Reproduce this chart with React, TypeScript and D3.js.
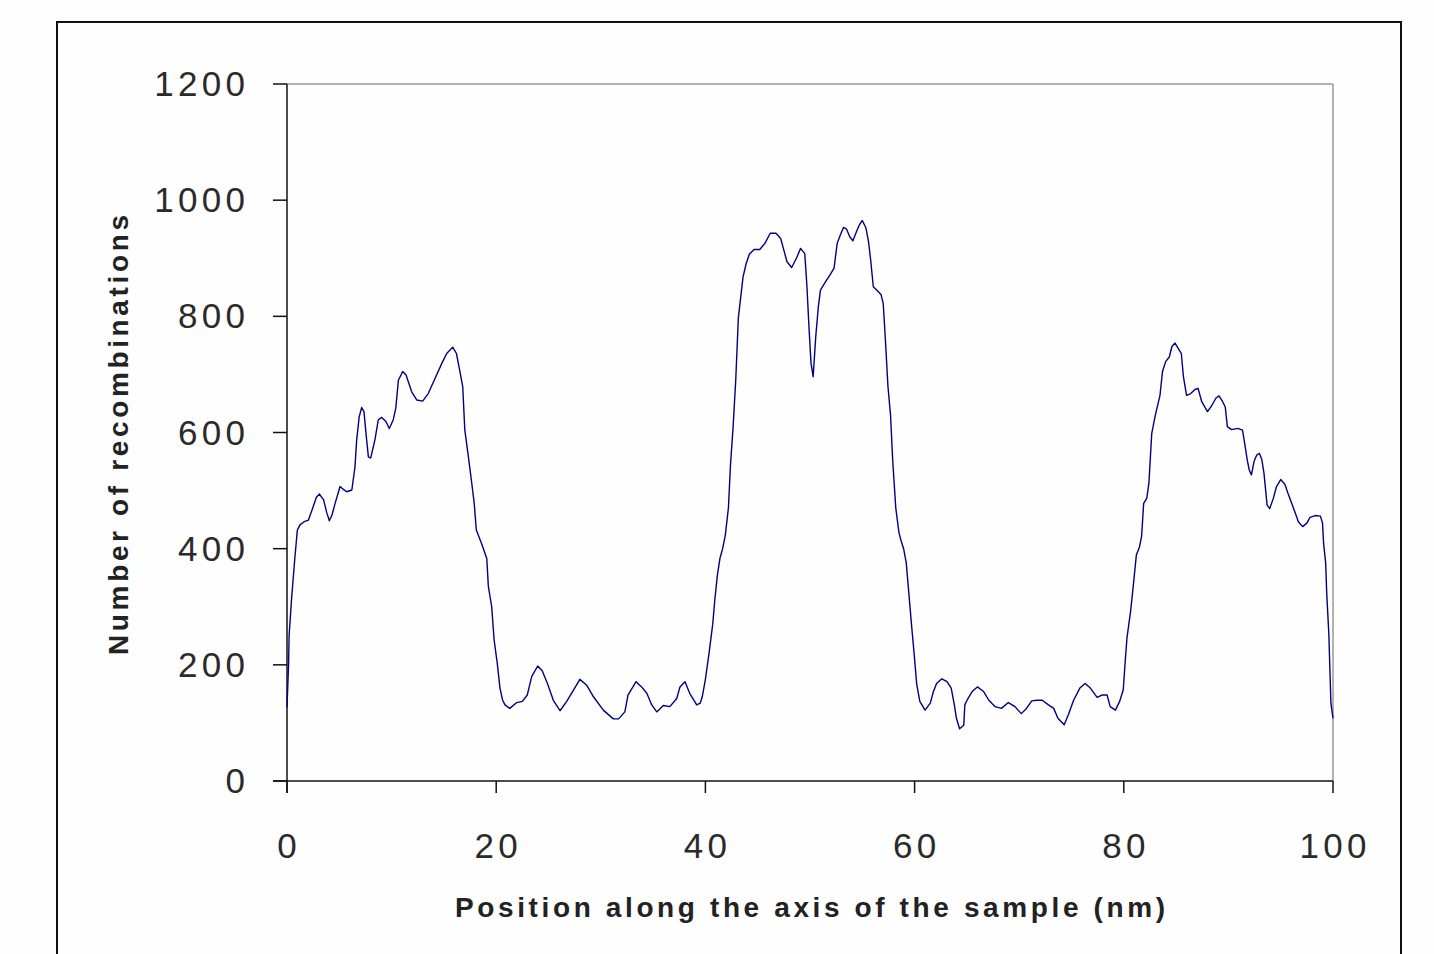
import React from "react";
import * as d3 from "d3";

const positions = [
  0, 0.15, 0.2, 0.45, 0.76, 0.99, 1.24, 1.6, 2.04, 2.5, 2.8, 3.1, 3.5, 3.8, 4.05, 4.3, 4.6, 5.07, 5.4, 5.7,
  6.2, 6.5, 6.66, 6.9, 7.14, 7.36, 7.55, 7.78, 8.0, 8.4, 8.73, 9.05, 9.46, 9.78, 10.16, 10.4, 10.65, 11.06, 11.38, 11.92,
  12.4, 12.97, 13.5, 14.15, 14.8, 15.27, 15.84, 16.2, 16.5, 16.8, 17.0, 17.3, 17.66, 17.9, 18.1, 18.6, 19.1, 19.25, 19.57, 19.8,
  20.1, 20.36, 20.6, 20.84, 21.3, 21.96, 22.5, 22.97, 23.4, 23.97, 24.4, 24.9, 25.46, 26.1, 26.74, 27.4, 28.0, 28.65, 29.3, 30.24,
  31.2, 31.7, 32.3, 32.6, 33.37, 33.9, 34.4, 34.87, 35.35, 35.97, 36.6, 37.26, 37.57, 38.05, 38.5, 39.17, 39.5, 39.7, 40.0, 40.35,
  40.7, 40.9, 41.15, 41.4, 41.65, 41.9, 42.2, 42.4, 42.65, 42.9, 43.15, 43.4, 43.6, 43.9, 44.2, 44.65, 45.2, 45.7, 46.2, 46.75,
  47.2, 47.5, 47.8, 48.25, 48.7, 49.1, 49.5, 49.7, 49.9, 50.1, 50.3, 50.55, 50.8, 51.0, 51.4, 51.9, 52.3, 52.6, 52.9, 53.2,
  53.5, 53.8, 54.1, 54.45, 54.7, 55.0, 55.35, 55.6, 55.8, 56.05, 56.4, 56.8, 57.0, 57.2, 57.45, 57.7, 57.9, 58.2, 58.5, 58.7,
  58.95, 59.2, 59.45, 59.7, 59.96, 60.2, 60.5, 61.0, 61.5, 61.8, 62.1, 62.6, 63.1, 63.5, 63.8, 64.0, 64.3, 64.7, 64.8, 65.1,
  65.5, 66.0, 66.6, 67.1, 67.7, 68.3, 68.96, 69.6, 70.2, 70.7, 71.2, 71.7, 72.2, 72.8, 73.3, 73.7, 74.3, 74.7, 75.2, 75.8,
  76.3, 76.8, 77.45, 77.9, 78.4, 78.7, 79.2, 79.6, 79.95, 80.1, 80.3, 80.65, 80.9, 81.2, 81.5, 81.7, 81.9, 82.2, 82.4, 82.67,
  82.98, 83.2, 83.46, 83.7, 84.0, 84.35, 84.6, 84.9, 85.2, 85.5, 85.7, 86.0, 86.4, 86.8, 87.1, 87.45, 88.0, 88.4, 88.8, 89.1,
  89.45, 89.7, 89.9, 90.3, 90.9, 91.35, 91.6, 91.8, 92.0, 92.2, 92.45, 92.7, 92.97, 93.2, 93.4, 93.7, 93.95, 94.3, 94.6, 95.0,
  95.4, 95.7, 96.05, 96.4, 96.7, 97.1, 97.5, 97.8, 98.3, 98.8, 99.0, 99.1, 99.3, 99.4, 99.6, 99.8, 100,
];

const recombinations = [
  127, 200, 250, 317, 386, 432, 441, 446, 449, 472, 488, 494, 484, 462, 448, 458, 478, 507, 502, 498,
  501, 541, 587, 627, 643, 636, 599, 558, 556, 587, 622, 626, 619, 607, 622, 642, 690, 705, 699, 670,
  656, 654, 667, 693, 719, 736, 747, 736, 708, 679, 604, 564, 513, 478, 432, 409, 383, 335, 300, 243,
  203, 160, 140, 131, 125, 135, 137, 148, 180, 198, 190, 168, 139, 121, 137, 157, 175, 165, 145, 122,
  107, 107, 119, 148, 171, 162, 151, 131, 119, 130, 128, 142, 162, 171, 151, 131, 134, 145, 175, 220,
  270, 312, 355, 384, 400, 423, 470, 545, 610, 690, 797, 837, 868, 891, 907, 915, 915, 926, 943, 943,
  934, 914, 894, 884, 900, 917, 908, 854, 782, 719, 696, 765, 817, 845, 857, 871, 883, 926, 940, 953,
  950, 937, 930, 946, 957, 965, 952, 928, 897, 851, 845, 837, 822, 762, 680, 630, 554, 470, 428, 414,
  400, 376, 323, 270, 218, 167, 137, 122, 134, 154, 168, 176, 171, 160, 131, 108, 90, 96, 131, 142,
  154, 162, 154, 139, 128, 125, 135, 128, 116, 125, 138, 139, 139, 131, 125, 108, 97, 114, 139, 160,
  168, 160, 144, 148, 148, 128, 122, 137, 157, 197, 246, 292, 335, 389, 403, 421, 478, 487, 513, 598,
  627, 644, 664, 705, 722, 730, 748, 754, 745, 736, 696, 664, 667, 674, 676, 653, 636, 646, 659, 663,
  653, 644, 610, 605, 607, 604, 576, 553, 535, 527, 550, 561, 564, 553, 530, 475, 469, 487, 507, 519,
  511, 495, 478, 461, 446, 438, 444, 454, 457, 456, 444, 409, 375, 323, 254, 134, 108,
];

const xTicks = [0, 20, 40, 60, 80, 100];
const yTicks = [0, 200, 400, 600, 800, 1000, 1200];
const xTitle = "Position along the axis of the sample (nm)";
const yTitle = "Number of recombinations";

const W = 1434;
const H = 954;
const FONT = "'Liberation Sans', Arial, sans-serif";

export default function App() {
  const x = d3.scaleLinear().domain([0, 100]).range([287, 1333]);
  const y = d3.scaleLinear().domain([0, 1200]).range([781, 84]);
  const pts: [number, number][] = positions.map((p, i) => [p, recombinations[i]]);
  const line = d3
    .line<[number, number]>()
    .x((d) => x(d[0]))
    .y((d) => y(d[1]));

  const [x0, x1] = x.range();
  const [y0, y1] = y.range();
  const LS = 4.3;

  return (
    <svg
      width={W}
      height={H}
      style={{ position: "absolute", left: 0, top: 0, background: "#fff" }}
    >
      <rect x={0} y={0} width={W} height={H} fill="#fefefe" />
      {/* outer frame */}
      <rect x={57} y={22} width={1344} height={1000} fill="#fefefe" stroke="#111" strokeWidth={2} />
      {/* plot border top/right */}
      <line x1={x0} x2={x1} y1={y1} y2={y1} stroke="#999" strokeWidth={1.5} />
      <line x1={x1} x2={x1} y1={y1} y2={y0} stroke="#999" strokeWidth={1.5} />
      {/* axes */}
      <line x1={x0} x2={x0} y1={y1} y2={y0 + 12} stroke="#111" strokeWidth={1.5} />
      <line x1={x0 - 14} x2={x1} y1={y0} y2={y0} stroke="#111" strokeWidth={1.5} />
      {yTicks.map((t) => (
        <g key={"y" + t}>
          <line x1={x0 - 14} x2={x0} y1={y(t)} y2={y(t)} stroke="#111" strokeWidth={1.5} />
          <text
            x={245 + LS}
            y={y(t) + 12}
            textAnchor="end"
            fontFamily={FONT}
            fontSize={35}
            letterSpacing={LS}
            fill="#2a2a2a"
          >
            {t}
          </text>
        </g>
      ))}
      {xTicks.map((t) => (
        <g key={"x" + t}>
          <line x1={x(t)} x2={x(t)} y1={y0} y2={y0 + 12} stroke="#111" strokeWidth={1.5} />
          <text
            x={x(t) + LS / 2}
            y={858}
            textAnchor="middle"
            fontFamily={FONT}
            fontSize={35}
            letterSpacing={LS}
            fill="#2a2a2a"
          >
            {t}
          </text>
        </g>
      ))}
      <path d={line(pts) || ""} fill="none" stroke="#000080" strokeWidth={1.4} strokeLinejoin="round" />
      <text
        x={455}
        y={917}
        fontFamily={FONT}
        fontSize={28}
        fontWeight="bold"
        fill="#222"
        textLength={710}
        lengthAdjust="spacing"
      >
        {xTitle}
      </text>
      <text
        transform={`translate(128, 655) rotate(-90)`}
        x={0}
        y={0}
        fontFamily={FONT}
        fontSize={28}
        fontWeight="bold"
        fill="#222"
        textLength={440}
        lengthAdjust="spacing"
      >
        {yTitle}
      </text>
    </svg>
  );
}
